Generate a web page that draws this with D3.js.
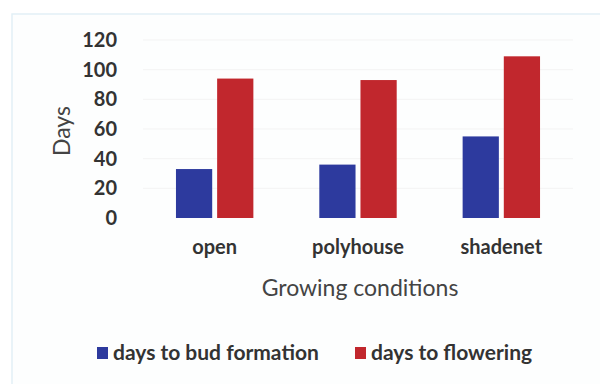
<!DOCTYPE html>
<html><head><meta charset="utf-8">
<script src="https://cdn.jsdelivr.net/npm/d3@7"></script>
<style>body{margin:0;background:#fff;} svg{display:block;}</style>
</head><body>
<svg id="c" width="600" height="384"></svg>
<script>
const categories = ["open", "polyhouse", "shadenet"];
const seriesNames = ["days to bud formation", "days to flowering"];
const budFormation = [33, 36, 55];
const flowering = [94, 93, 109];
const yTicks = [0, 20, 40, 60, 80, 100, 120];

const colors = ["#2d3a9e", "#c1272d"];
const svg = d3.select("#c");
const font = "Lato, 'Open Sans', sans-serif";

// frame
svg.append("rect").attr("x", 12).attr("y", 14).attr("width", 600).attr("height", 400)
  .attr("fill", "#fdfefe").attr("stroke", "#e2f0f6").attr("stroke-width", 1.5);

const m = {left: 143, right: 573, top: 40, bottom: 218};
const x0 = d3.scaleBand().domain(categories).range([m.left, m.right]).paddingInner(0.46).paddingOuter(0.23);
const x1 = d3.scaleBand().domain(seriesNames).range([0, x0.bandwidth()]).paddingInner(0.12);
const y = d3.scaleLinear().domain([0, 120]).range([m.bottom, m.top]);

// grid
svg.append("g").selectAll("line").data(yTicks.filter(d => d > 0)).join("line")
  .attr("x1", m.left).attr("x2", m.right).attr("y1", d => y(d)).attr("y2", d => y(d))
  .attr("stroke", "#f3f3f3").attr("stroke-width", 1);

// y axis
const ya = svg.append("g").attr("transform", `translate(${m.left},0)`)
  .call(d3.axisLeft(y).tickValues(yTicks).tickSize(0).tickPadding(26));
ya.select(".domain").remove();
ya.selectAll("text").attr("font-family", font).attr("font-size", 20).attr("font-weight", 700).attr("fill", "#333");

// bars
const rows = categories.map((c, i) => ({cat: c, vals: [budFormation[i], flowering[i]]}));
const g = svg.append("g").selectAll("g").data(rows).join("g")
  .attr("transform", d => `translate(${x0(d.cat)},0)`);
g.selectAll("rect").data(d => d.vals.map((v, j) => ({v, s: seriesNames[j], j}))).join("rect")
  .attr("x", d => x1(d.s)).attr("width", x1.bandwidth())
  .attr("y", d => y(d.v)).attr("height", d => y(0) - y(d.v))
  .attr("fill", d => colors[d.j]);

// x axis
const xa = svg.append("g").attr("transform", `translate(0,${m.bottom})`)
  .call(d3.axisBottom(x0).tickSize(0).tickPadding(22));
xa.select(".domain").remove();
xa.selectAll("text").attr("font-family", font).attr("font-size", 20).attr("font-weight", 700).attr("fill", "#333");

// axis titles
svg.append("text").attr("x", 360).attr("y", 296).attr("text-anchor", "middle")
  .attr("font-family", font).attr("font-size", 23).attr("fill", "#444").text("Growing conditions");
svg.append("text").attr("transform", "translate(70,131) rotate(-90)").attr("text-anchor", "middle")
  .attr("font-family", font).attr("font-size", 23).attr("fill", "#444").text("Days");

// legend
const legX = [97, 355];
const lg = svg.append("g").selectAll("g").data(seriesNames).join("g")
  .attr("transform", (d, i) => `translate(${legX[i]},347)`);
lg.append("rect").attr("width", 11).attr("height", 12).attr("fill", (d, i) => colors[i]);
lg.append("text").attr("x", 16).attr("y", 13).attr("font-family", font).attr("font-size", 21)
  .attr("font-weight", 700).attr("fill", "#333").text(d => d);
</script>
</body></html>
